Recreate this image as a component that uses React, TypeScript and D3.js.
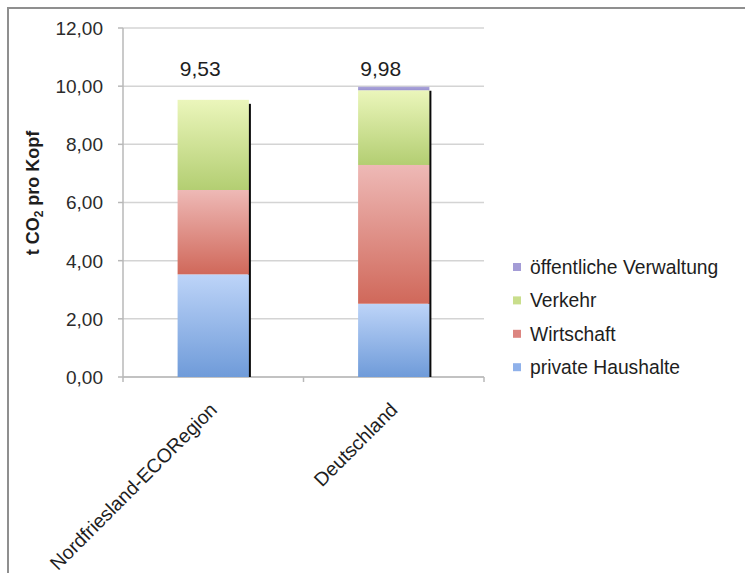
import React from "react";
import * as d3 from "d3";

// CO2 emissions per head, split by sector
const categories = ["Nordfriesland-ECORegion", "Deutschland"];
const privateHaushalte = [3.53, 2.52];
const wirtschaft = [2.9, 4.77];
const verkehr = [3.1, 2.57];
const oeffentlicheVerwaltung = [0, 0.12];
const yTicks = [0, 2, 4, 6, 8, 10, 12];

const seriesNames = ["private Haushalte", "Wirtschaft", "Verkehr", "öffentliche Verwaltung"];
const seriesKeys = ["priv", "wirt", "verk", "oeff"];

const palette: Record<string, { top: string; bottom: string; swatch: string }> = {
  priv: { top: "#bdd4f8", bottom: "#6f9bd9", swatch: "#8fb1ea" },
  wirt: { top: "#eeb9b6", bottom: "#d0685a", swatch: "#dc8580" },
  verk: { top: "#ebf6bb", bottom: "#b3ce72", swatch: "#c9de8c" },
  oeff: { top: "#aaa4da", bottom: "#9a92d0", swatch: "#a49cd6" },
};

const W = 745;
const H = 573;
const plot = { left: 123, right: 484, top: 28, bottom: 377 };
const FONT = "'Liberation Sans', Arial, Helvetica, sans-serif";

const fmt = (v: number) => v.toFixed(2).replace(".", ",");

export default function App() {
  const rows = categories.map((c, i) => ({
    cat: c,
    priv: privateHaushalte[i],
    wirt: wirtschaft[i],
    verk: verkehr[i],
    oeff: oeffentlicheVerwaltung[i],
  }));
  const stacked = d3.stack<any>().keys(seriesKeys)(rows);

  const x = d3.scaleBand().domain(categories).range([plot.left, plot.right]).paddingInner(0).paddingOuter(0);
  const y = d3.scaleLinear().domain([0, 12]).range([plot.bottom, plot.top]);
  const barW = x.bandwidth() * 0.395;

  const totals = rows.map((r) => r.priv + r.wirt + r.verk + r.oeff);

  return (
    <svg
      width={W}
      height={H}
      style={{ position: "absolute", left: 0, top: 0, background: "#fff" }}
      fontFamily={FONT}
    >
      <defs>
        {seriesKeys.map((k) => (
          <linearGradient key={k} id={`g-${k}`} x1="0" y1="0" x2="0" y2="1">
            <stop offset="0%" stopColor={palette[k].top} />
            <stop offset="100%" stopColor={palette[k].bottom} />
          </linearGradient>
        ))}
      </defs>

      {/* outer frame */}
      <rect x={8} y={8} width={W + 10} height={H + 10} fill="none" stroke="#8f8f8f" strokeWidth={2} />

      {/* gridlines */}
      {yTicks.map((t) => (
        <line key={t} x1={plot.left} x2={plot.right} y1={y(t)} y2={y(t)} stroke="#d4d4d4" strokeWidth={1.5} />
      ))}

      {/* y axis */}
      <line x1={plot.left} x2={plot.left} y1={plot.top} y2={plot.bottom} stroke="#b8b8b8" strokeWidth={1.5} />
      {yTicks.map((t) => (
        <g key={t}>
          <line x1={plot.left - 5} x2={plot.left} y1={y(t)} y2={y(t)} stroke="#b8b8b8" strokeWidth={1.5} />
          <text x={103} y={y(t)} dy="0.36em" textAnchor="end" fontSize={19} fill="#2b2b2b">
            {fmt(t)}
          </text>
        </g>
      ))}

      {/* x axis */}
      <line x1={plot.left} x2={plot.right} y1={plot.bottom} y2={plot.bottom} stroke="#b8b8b8" strokeWidth={1.5} />
      {[plot.left, (x(categories[1]) as number), plot.right].map((px, i) => (
        <line key={i} x1={px} x2={px} y1={plot.bottom} y2={plot.bottom + 5} stroke="#b8b8b8" strokeWidth={1.5} />
      ))}

      {/* bar shadows */}
      {rows.map((r, i) => {
        const cx = (x(r.cat) as number) + x.bandwidth() / 2;
        const top = y(totals[i]) + 4;
        return (
          <rect key={r.cat} x={cx + barW / 2 - 1} y={top} width={3} height={plot.bottom - top} fill="#0a0a0a" />
        );
      })}

      {/* stacked bars */}
      {stacked.map((s) =>
        s.map((d, i) => {
          const cx = (x(categories[i]) as number) + x.bandwidth() / 2;
          const h = y(d[0]) - y(d[1]);
          if (h <= 0) return null;
          return (
            <rect
              key={`${s.key}-${i}`}
              x={cx - barW / 2}
              y={y(d[1])}
              width={barW}
              height={h}
              fill={`url(#g-${s.key})`}
            />
          );
        })
      )}

      {/* totals */}
      {rows.map((r, i) => {
        const cx = (x(r.cat) as number) + x.bandwidth() / 2;
        return (
          <text key={r.cat} x={cx - 13} y={y(10) - 10} textAnchor="middle" fontSize={21} fill="#1e1e1e">
            {fmt(totals[i])}
          </text>
        );
      })}

      {/* category labels */}
      {categories.map((c) => {
        const cx = (x(c) as number) + x.bandwidth() / 2 + 5;
        const cy = 411;
        return (
          <text
            key={c}
            x={cx}
            y={cy}
            textAnchor="end"
            fontSize={19.5}
            fill="#1e1e1e"
            transform={`rotate(-45 ${cx} ${cy})`}
          >
            {c}
          </text>
        );
      })}

      {/* y axis title */}
      <text
        transform="translate(39,193) rotate(-90)"
        textAnchor="middle"
        fontSize={18}
        fontWeight="bold"
        fill="#1e1e1e"
      >
        t CO
        <tspan fontSize={12} dy={4}>
          2
        </tspan>
        <tspan dy={-4}> pro Kopf</tspan>
      </text>

      {/* legend */}
      {seriesKeys
        .slice()
        .reverse()
        .map((k, i) => {
          const name = seriesNames[seriesKeys.indexOf(k)];
          const cy = 267 + i * 33.4;
          return (
            <g key={k}>
              <rect x={513} y={cy - 4} width={8} height={8} fill={palette[k].swatch} />
              <text x={530} y={cy} dy="0.36em" fontSize={19.3} fill="#1e1e1e">
                {name}
              </text>
            </g>
          );
        })}
    </svg>
  );
}
